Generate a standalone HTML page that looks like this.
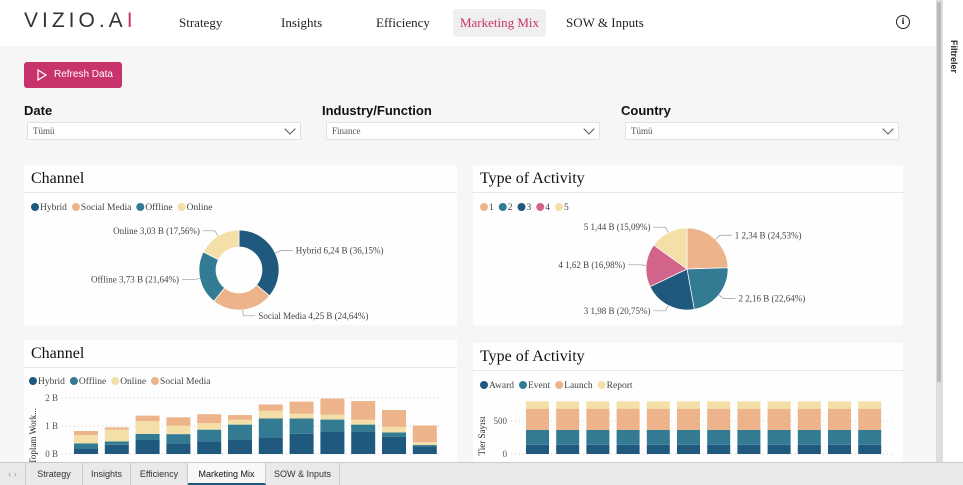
<!DOCTYPE html>
<html><head><meta charset="utf-8"><style>
*{margin:0;padding:0;box-sizing:border-box}
body{width:963px;height:485px;overflow:hidden;background:#f6f6f6;font-family:"Liberation Serif",serif;position:relative}
.abs{position:absolute}
.nav{font-size:13px;color:#222;top:15px}
.lbl{font-family:"Liberation Sans",sans-serif;font-size:13px;color:#111;font-weight:bold}
.dd{height:18px;background:#fff;border:1px solid #e2e2e2;font-size:9px;color:#555;padding:3px 0 0 5px}
.dd::after{content:"";position:absolute;right:6px;top:2px;width:7px;height:7px;border-right:1px solid #555;border-bottom:1px solid #555;transform:rotate(45deg)}
.card{background:rgba(255,255,255,0.85)}
.ttl{font-size:16px;color:#111;position:absolute;left:7px;top:5px}
.sep{position:absolute;left:0;right:0;height:1px;background:#e6e6e6}
.tab{position:absolute;top:463px;height:22px;font-family:"Liberation Sans",sans-serif;font-size:9px;color:#333;text-align:center;padding-top:6px;border-right:1px solid #ccc;background:#e9e9e9}
</style></head><body>
<div class="abs" style="left:0;top:0;width:937px;height:46px;background:#fff"></div>
<div class="abs" style="left:24px;top:9px;font-family:'Liberation Sans',sans-serif;font-size:21px;letter-spacing:4px;color:#333;font-weight:300">VIZIO.A<span style="color:#c8336b">I</span></div>
<div class="abs nav" style="left:179px">Strategy</div>
<div class="abs nav" style="left:281px">Insights</div>
<div class="abs nav" style="left:376px">Efficiency</div>
<div class="abs nav" style="left:453px;top:9px;width:93px;height:28px;background:#efefef;border-radius:4px;color:#c8336b;padding-top:6px;text-align:center">Marketing Mix</div>
<div class="abs nav" style="left:566px">SOW &amp; Inputs</div>
<div class="abs" style="left:896px;top:15px;width:14px;height:14px;border:1.5px solid #222;border-radius:50%;font-size:9px;text-align:center;line-height:11px;font-family:'Liberation Serif',serif;font-weight:bold">i</div>
<div class="abs" style="left:936px;top:0;width:6px;height:462px;background:#ddd"><div style="margin:2px 1px;height:380px;background:#b9b9b9;border-radius:2px"></div></div>
<div class="abs" style="left:942px;top:0;width:21px;height:485px;background:#fff;border-left:1px solid #ddd">
<div style="position:absolute;top:40px;transform:rotate(90deg);transform-origin:left top;left:16px;font-family:'Liberation Sans',sans-serif;font-size:9px;font-weight:bold;white-space:nowrap;color:#222">Filtreler</div></div>
<div class="abs" style="left:24px;top:62px;width:98px;height:26px;background:#c8336b;border-radius:3px;color:#fff;font-family:'Liberation Sans',sans-serif;font-size:10px;padding:7px 0 0 30px">Refresh Data<svg style="position:absolute;left:13px;top:7px" width="10" height="12"><path d="M1,1 L9,6 L1,11 Z" fill="none" stroke="#fff" stroke-width="1.2"/></svg></div>
<div class="abs lbl" style="left:24px;top:103px">Date</div>
<div class="abs lbl" style="left:322px;top:103px">Industry/Function</div>
<div class="abs lbl" style="left:621px;top:103px">Country</div>
<div class="abs dd" style="left:27px;top:122px;width:274px">Tümü</div>
<div class="abs dd" style="left:326px;top:122px;width:274px">Finance</div>
<div class="abs dd" style="left:625px;top:122px;width:274px">Tümü</div>

<div class="abs card" style="left:24px;top:165px;width:433px;height:160px"><div class="ttl">Channel</div><div class="sep" style="top:27px"></div></div>
<div class="abs card" style="left:473px;top:165px;width:430px;height:160px"><div class="ttl">Type of Activity</div><div class="sep" style="top:27px"></div></div>
<div class="abs card" style="left:24px;top:340px;width:433px;height:123px"><div class="ttl">Channel</div><div class="sep" style="top:27px"></div></div>
<div class="abs card" style="left:473px;top:343px;width:430px;height:120px"><div class="ttl">Type of Activity</div><div class="sep" style="top:27px"></div></div>

<svg class="abs" id="chart" style="left:0;top:0" width="963" height="485" font-family="Liberation Serif, serif" font-size="9" fill="#444"></svg>

<div class="abs" style="left:0;top:462px;width:963px;height:23px;background:#e9e9e9;border-top:1px solid #ccc"></div>
<div class="tab" style="left:0;width:26px;color:#999">‹ ›</div>
<div class="tab" style="left:26px;width:57px">Strategy</div>
<div class="tab" style="left:83px;width:48px">Insights</div>
<div class="tab" style="left:131px;width:57px">Efficiency</div>
<div class="tab" style="left:188px;width:78px;background:#f8f8f8;border-bottom:2px solid #1f5a7e;color:#111">Marketing Mix</div>
<div class="tab" style="left:266px;width:74px">SOW &amp; Inputs</div>

<script>
const chLabels=["Hybrid","Social Media","Offline","Online"];
const chValues=[6.24,4.25,3.73,3.03];
const chPct=["36,15%","24,64%","21,64%","17,56%"];
const actLabels=["1","2","3","4","5"];
const actValues=[2.34,2.16,1.98,1.62,1.44];
const actPct=["24,53%","22,64%","20,75%","16,98%","15,09%"];
const barSeries=["Hybrid","Offline","Online","Social Media"];
const hybrid=[0.2,0.33,0.5,0.38,0.45,0.5,0.6,0.72,0.8,0.8,0.62,0.27];
const offline=[0.18,0.12,0.22,0.33,0.42,0.55,0.67,0.55,0.43,0.25,0.15,0.05];
const online=[0.3,0.42,0.45,0.3,0.23,0.17,0.27,0.17,0.17,0.17,0.2,0.1];
const social=[0.14,0.08,0.2,0.3,0.32,0.17,0.23,0.43,0.58,0.67,0.6,0.6];
const chTicks=["0 B","1 B","2 B"];
const actSeries=["Award","Event","Launch","Report"];
const award=[140,140,140,140,140,140,140,140,140,140,140,140];
const event=[224,224,224,224,224,224,224,224,224,224,224,224];
const launch=[323,323,323,323,323,323,323,323,323,323,323,323];
const report=[111,111,111,111,111,111,111,111,111,111,111,111];
const actTicks=[0,500];

const C={Hybrid:"#1f5a7e",Offline:"#337b93",Online:"#f5dfa8","Social Media":"#edb48b",Award:"#1f5a7e",Event:"#337b93",Launch:"#edb48b",Report:"#f5dfa8"};
const pieCol=["#edb48b","#337b93","#1f5a7e","#d2648b","#f5dfa8"];
const svg=document.getElementById('chart');
const NS="http://www.w3.org/2000/svg";
function mk(t,a,p){const e=document.createElementNS(NS,t);for(const k in a)e.setAttribute(k,a[k]);(p||svg).appendChild(e);return e;}
function legend(x,y,names,cols){let cx=x;names.forEach((n,i)=>{const c=mk('circle',{cx:cx+4,cy:y,r:4,fill:cols[i]});


const t=mk('text',{x:cx+9,y:y+3,fill:'#444','font-size':9.5});t.textContent=n;


cx+=t.getComputedTextLength()+14;});}
legend(31,207,chLabels,chLabels.map(n=>C[n]));
legend(480,207,actLabels,pieCol);
legend(29,381,barSeries,barSeries.map(n=>C[n]));
legend(480,385,actSeries,actSeries.map(n=>C[n]));

function arc(cx,cy,r,ri,a0,a1){const p=(a,rr)=>[cx+rr*Math.sin(a),cy-rr*Math.cos(a)];const l=a1-a0>Math.PI?1:0;
const [x0,y0]=p(a0,r),[x1,y1]=p(a1,r);
if(ri>0){const [x2,y2]=p(a1,ri),[x3,y3]=p(a0,ri);return `M${x0},${y0}A${r},${r} 0 ${l} 1 ${x1},${y1}L${x2},${y2}A${ri},${ri} 0 ${l} 0 ${x3},${y3}Z`;}
return `M${cx},${cy}L${x0},${y0}A${r},${r} 0 ${l} 1 ${x1},${y1}Z`;}
function pie(cx,cy,r,ri,vals,cols,labels,pct,name){const tot=vals.reduce((a,b)=>a+b,0);let a=0;
vals.forEach((v,i)=>{const a1=a+v/tot*2*Math.PI;const s=mk('path',{d:arc(cx,cy,r,ri,a,a1),fill:cols[i],stroke:'#fff','stroke-width':0.7});


const m=(a+a1)/2;const ex=cx+(r+6)*Math.sin(m),ey=cy-(r+6)*Math.cos(m);const right=Math.sin(m)>=0;
const lx=ex+(right?12:-12);mk('polyline',{points:`${cx+r*Math.sin(m)},${cy-r*Math.cos(m)} ${ex},${ey} ${lx},${ey}`,fill:'none',stroke:'#999','stroke-width':0.7});
const t=mk('text',{x:lx+(right?3:-3),y:ey+3,'text-anchor':right?'start':'end',fill:'#444'});
t.textContent=`${labels[i]} ${String(vals[i]).replace('.',',')} B (${pct[i]})`;


a=a1;});}
pie(239,270,40,23,chValues,chLabels.map(n=>C[n]),chLabels,chPct,'channel-donut');
pie(687,269,41,0,actValues,pieCol,actLabels,actPct,'activity-pie');

function bars(x0,step,w,y0,pxPer,series,cols,ticks,tickLbl,axisX,axisRight,ytitle,name){
ticks.forEach((tv,i)=>{const y=y0-tv*pxPer;mk('line',{x1:axisX+4,x2:axisRight,y1:y,y2:y,stroke:'#ccc','stroke-dasharray':'1,3'});
const t=mk('text',{x:axisX,y:y+3,'text-anchor':'end',fill:'#555'});t.textContent=tickLbl[i];

});
const yt=mk('text',{transform:`translate(${axisX-22},${y0-18}) rotate(-90)`,'text-anchor':'middle',fill:'#222'});yt.textContent=ytitle;


series[0].forEach((_,j)=>{let base=0;series.forEach((s,k)=>{const h=s[j]*pxPer;const r=mk('rect',{x:x0+j*step,y:y0-base-h,width:w,height:h,fill:cols[k]});


base+=h;});});}
bars(74,30.8,24,454,28,[hybrid,offline,online,social],barSeries.map(n=>C[n]),[0,1,2],chTicks,58,440,'Toplam Work...','channel');
bars(526,30.2,23,454,0.066,[award,event,launch,report],actSeries.map(n=>C[n]),actTicks,actTicks.map(String),507,895,'Tier Sayısı','activity');
</script>
</body></html>
